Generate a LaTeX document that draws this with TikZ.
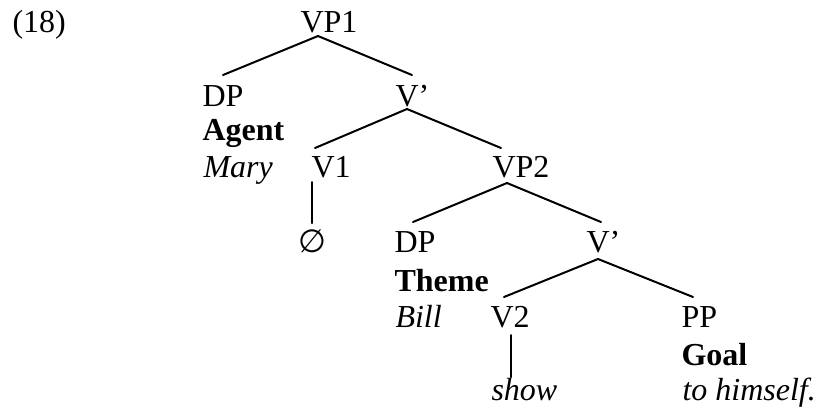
\documentclass[tikz,border=0pt]{standalone}
\usepackage{fontspec}
\setmainfont{Liberation Serif}
\newfontfamily\symfont{DejaVu Sans}
\begin{document}
\begin{tikzpicture}[x=0.375pt,y=-0.375pt,
  lbl/.style={anchor=base west,inner sep=0pt,font=\fontsize{12}{13.8}\selectfont},
  bld/.style={lbl,font=\fontsize{12}{13.8}\selectfont\bfseries},
  itl/.style={lbl,font=\fontsize{12}{13.8}\selectfont\itshape},
  edge/.style={line width=0.75pt,line cap=round}]
\useasboundingbox (0,0) rectangle (816,410);
% labels
\node[lbl] (ex) at (12,32) {(18)};
\node[lbl] (vp1) at (300,32) {VP1};
\node[lbl] (dp1) at (202,106) {DP};
\node[bld] (agent) at (202,140) {Agent};
\node[itl] (mary) at (203,177) {Mary};
\node[lbl] (vbar1) at (395,106) {V’};
\node[lbl] (v1) at (311,177) {V1};
\node[lbl] (vp2) at (492,177) {VP2};
\node[inner sep=0pt,font=\fontsize{12}{13.8}\symfont] (empty) at (312,241) {∅};
\node[lbl] (dp2) at (394,252) {DP};
\node[bld] (theme) at (394,291) {Theme};
\node[itl] (bill) at (395,327) {Bill};
\node[lbl] (vbar2) at (586,252) {V’};
\node[lbl] (v2) at (490,327) {V2};
\node[itl] (show) at (491,400) {show};
\node[lbl] (pp) at (681,327) {PP};
\node[bld] (goal) at (681,365) {Goal};
\node[itl] (tohim) at (682,400) {to himself.};
% connector ends
\coordinate (vp1b) at (318,36);
\coordinate (dp1t) at (223,75);
\coordinate (vbar1t) at (412,75);
\coordinate (vbar1b) at (407,109);
\coordinate (v1t) at (315,148);
\coordinate (vp2t) at (501,148);
\coordinate (v1b) at (312,182);
\coordinate (emptyt) at (312,223);
\coordinate (vp2b) at (507,183);
\coordinate (dp2t) at (413,222);
\coordinate (vbar2t) at (601,222);
\coordinate (vbar2b) at (598,259);
\coordinate (v2t) at (504,297);
\coordinate (ppt) at (693,297);
\coordinate (v2b) at (511,335);
\coordinate (showt) at (511,377);
% connectors
\draw[edge] (dp1t) -- (vp1b) -- (vbar1t);
\draw[edge] (v1t) -- (vbar1b) -- (vp2t);
\draw[edge] (v1b) -- (emptyt);
\draw[edge] (dp2t) -- (vp2b) -- (vbar2t);
\draw[edge] (v2t) -- (vbar2b) -- (ppt);
\draw[edge] (v2b) -- (showt);
\end{tikzpicture}
\end{document}
